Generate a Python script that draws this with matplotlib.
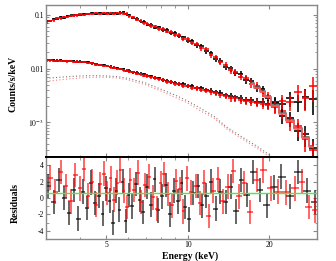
import numpy as np
import matplotlib
matplotlib.use("Agg")
import matplotlib.pyplot as plt
from matplotlib.ticker import FixedLocator, NullFormatter, LogLocator

plt.rcParams['font.family'] = ['Liberation Serif', 'DejaVu Serif']
plt.rcParams['mathtext.fontset'] = 'stix'

# ---------------- data ----------------
E_top = [3.0, 3.1, 3.2, 3.3, 3.4, 3.5, 3.6, 3.7, 3.8, 3.9,
         4.0, 4.15, 4.3, 4.45, 4.6, 4.75, 4.9, 5.05, 5.2, 5.35,
         5.5, 5.65, 5.8, 5.95, 6.1, 6.3, 6.5, 6.7, 6.9, 7.1,
         7.35, 7.6, 7.85, 8.1, 8.4, 8.7, 9.0, 9.3, 9.65, 10.0,
         10.4, 10.8, 11.2, 11.7, 12.2, 12.7, 13.2, 13.8, 14.4, 15.0,
         15.7, 16.4, 17.2, 18.0, 18.9, 19.8, 21.0, 22.4, 23.9, 25.5, 27.2, 29.0]

specA_black = [.076, .077, .083, .084, .090, .089, .095, .097, .099, .101,
               .100, .105, .103, .107, .105, .109, .106, .108, .105, .109,
               .106, .110, .111, .102, .099, .088, .085, .076, .074, .066,
               .066, .058, .059, .052, .053, .046, .046, .040, .038, .033,
               .032, .027, .026, .021, .0195, .0152, .0140, .0109, .0101, .0082,
               .0078, .0062, .0058, .0044, .0041, .0028, .0024, .0013, .0012, .0007, .00060, .00033]
specA_red = [.071, .076, .079, .086, .086, .091, .092, .095, .097, .098,
             .102, .101, .105, .104, .107, .105, .108, .106, .108, .106,
             .108, .107, .106, .105, .095, .091, .081, .078, .070, .069,
             .062, .061, .055, .055, .049, .049, .043, .042, .036, .035,
             .030, .029, .024, .023, .0178, .0163, .0130, .0117, .0093, .0088,
             .0070, .0067, .0052, .0048, .0036, .0031, .0019, .0016, .0010, .00085, .00048, .00030]
specB_black = [.0146, .0143, .0145, .0141, .0143, .0139, .0140, .0137, .0138, .0135,
               .0135, .0131, .0130, .0125, .0123, .0117, .0116, .0111, .0109, .0104,
               .0103, .0098, .0097, .0092, .0091, .0086, .0084, .0080, .0078, .0074,
               .0072, .0068, .0066, .0062, .0060, .0057, .0055, .0052, .0051, .0048,
               .0047, .0044, .0043, .0040, .0039, .0036, .0035, .0032, .0031, .0029,
               .0028, .0026, .0026, .0024, .0024, .0022, .0023, .0022, .0028, .0024, .0029, .0027]
specB_red = [.0139, .0142, .0140, .0140, .0138, .0139, .0136, .0137, .0134, .0135,
             .0131, .0131, .0126, .0125, .0119, .0118, .0112, .0111, .0105, .0104,
             .0099, .0098, .0093, .0092, .0087, .0085, .0080, .0079, .0074, .0073,
             .0069, .0067, .0063, .0061, .0057, .0056, .0052, .0051, .0048, .0047,
             .0044, .0043, .0040, .0039, .0036, .0035, .0032, .0031, .0028, .0028,
             .0026, .0025, .0024, .0023, .0022, .0021, .0020, .0025, .0024, .0037, .0028, .0047]
rel_err = [0.05, 0.05, 0.05, 0.05, 0.05, 0.05, 0.05, 0.05, 0.05, 0.05,
           0.05, 0.05, 0.05, 0.05, 0.05, 0.05, 0.05, 0.055, 0.055, 0.055,
           0.055, 0.055, 0.06, 0.06, 0.06, 0.06, 0.06, 0.065, 0.065, 0.065,
           0.07, 0.07, 0.07, 0.075, 0.075, 0.08, 0.08, 0.085, 0.085, 0.09,
           0.09, 0.095, 0.1, 0.1, 0.11, 0.11, 0.12, 0.12, 0.13, 0.13,
           0.14, 0.15, 0.16, 0.17, 0.18, 0.2, 0.24, 0.28, 0.32, 0.36, 0.42, 0.5]

# model (high-energy part of spectrum A, drawn as steps)
E_mod = [17.2, 18.0, 18.9, 19.8, 21.0, 22.4, 23.9, 25.5, 27.2, 29.0]
modA_black = [.0055, .0046, .0038, .0030, .0021, .0015, .0011, .00078, .00053, .00036]
modA_red = [.0052, .0044, .0036, .0029, .0020, .0014, .00105, .00074, .00050, .00034]

# dotted model components
E_comp = [3.0, 3.5, 4.0, 4.5, 5.0, 5.5, 6.0, 7.0, 8.0, 9.0, 10.0, 11.0, 12.5, 14.0, 16.0, 18.0, 20.0, 22.0]
comp_black = [.0066, .0070, .0073, .0074, .0073, .0071, .0066, .0054, .0041, .0032, .0025, .0019,
              .0013, .00080, .00052, .00036, .00025, .00018]
comp_red = [.0058, .0063, .0067, .0069, .0069, .0067, .0062, .0050, .0038, .0029, .0023, .0017,
            .0012, .00074, .00048, .00033, .00023, .00016]

# residuals
E_res_black = [3.05, 3.2, 3.35, 3.5, 3.65, 3.8, 3.95, 4.1, 4.25, 4.4,
               4.55, 4.7, 4.85, 5.0, 5.15, 5.3, 5.45, 5.6, 5.75, 5.9,
               6.05, 6.25, 6.45, 6.65, 6.85, 7.05, 7.3, 7.55, 7.8, 8.05,
               8.3, 8.6, 8.9, 9.2, 9.5, 9.8, 10.1, 10.5, 10.9, 11.3,
               11.7, 12.2, 12.7, 13.2, 13.8, 14.4, 15.1, 15.8, 16.6, 17.5,
               18.5, 19.6, 20.8, 22.2, 23.8, 25.6, 27.6, 29.5]
res_black = [1.5, -0.5, 2.2, 0.0, -1.8, 1.0, -2.5, 0.8, -1.2, 1.9,
             -0.6, 0.3, -1.9, 1.2, -0.3, -3.0, 0.9, -1.4, 2.0, -2.8,
             0.4, -1.0, 1.7, -0.2, -1.7, 1.4, -0.8, 2.3, -1.5, 0.2,
             1.6, -2.0, 0.9, -0.4, 1.9, -1.1, -2.6, 0.6, 1.5, -0.9,
             0.3, 2.0, -1.3, 0.8, -0.5, 1.4, -1.6, 2.2, 0.4, 3.2,
             1.0, -0.9, 1.3, 2.6, 0.2, 3.2, 0.9, -0.5]
E_res_red = [3.1, 3.25, 3.4, 3.55, 3.7, 3.85, 4.0, 4.15, 4.3, 4.45,
             4.6, 4.75, 4.9, 5.05, 5.2, 5.35, 5.5, 5.65, 5.8, 5.95,
             6.15, 6.35, 6.55, 6.75, 6.95, 7.2, 7.45, 7.7, 7.95, 8.2,
             8.45, 8.75, 9.05, 9.35, 9.65, 9.95, 10.3, 10.7, 11.1, 11.5,
             11.95, 12.45, 12.95, 13.5, 14.1, 14.75, 15.45, 16.2, 17.0, 18.0,
             19.0, 20.3, 21.5, 23.0, 25.0, 26.5, 28.0, 29.6]
res_red = [2.5, 0.8, 3.2, 1.5, -0.4, 2.8, 1.2, 3.6, 0.3, 2.0,
           -0.8, 1.7, 3.0, 0.6, 2.4, -0.2, 1.9, 3.4, 0.9, -1.1,
           2.2, 1.0, 3.1, -0.5, 1.6, 2.6, 0.1, -1.3, 1.8, 2.9,
           0.5, -0.9, 2.1, 1.1, -1.6, 2.4, 0.7, 1.5, -0.6, 1.9,
           -2.2, 0.9, 2.3, -0.4, 1.4, 3.3, 0.2, 1.8, -1.7, 2.2,
           3.4, 1.2, 0.8, 0.7, 1.2, 2.0, -1.1, -1.5]
res_err = 1.5
res_ref_level = 0.6

x_ticks = [5, 10, 20]
x_ticklabels = ['5', '10', '20']
y_res_ticks = [4, 2, 0, -2, -4]
y_res_labels = ['4', '2', '0', '-2', '-4']


def half_widths(e):
    e = np.asarray(e, float)
    edges = np.sqrt(e[1:] * e[:-1])
    lo = np.concatenate([[e[0] - (edges[0] - e[0])], edges])
    hi = np.concatenate([edges, [e[-1] + (e[-1] - edges[-1])]])
    return np.vstack([e - lo, hi - e])


# ---------------- figure ----------------
fig = plt.figure(figsize=(3.36, 2.61), dpi=100)
ax1 = fig.add_axes([0.137, 0.398, 0.806, 0.583])
ax2 = fig.add_axes([0.137, 0.084, 0.806, 0.314], sharex=ax1)

E = np.asarray(E_top)
xe = half_widths(E_top)
rel = np.asarray(rel_err)

for vals, col, a in [(specA_black, 'black', 0.9), (specA_red, 'red', 0.85),
                     (specB_black, 'black', 0.9), (specB_red, 'red', 0.85)]:
    v = np.asarray(vals)
    ax1.errorbar(E, v, xerr=xe, yerr=v * rel, fmt='none', ecolor=col,
                 elinewidth=1.3, alpha=a, capsize=0)

ax1.plot(E_mod, modA_black, drawstyle='steps-mid', color='#555555', lw=1.1)
ax1.plot(E_mod, modA_red, drawstyle='steps-mid', color='#ff6060', lw=1.1)

ax1.plot(E_comp, comp_black, ls=(0, (1, 2)), color='#777777', lw=0.8)
ax1.plot(E_comp, comp_red, ls=(0, (1, 2)), color='#ff8080', lw=0.8)

ax1.set_xscale('log')
ax1.set_yscale('log')
ax1.set_xlim(3, 30)
ax1.set_ylim(2.25e-4, 0.153)

ax1.yaxis.set_major_locator(FixedLocator([1e-3, 1e-2, 1e-1]))
ax1.set_yticklabels([r'$10^{-3}$', '0.01', '0.1'])
ax1.yaxis.set_minor_locator(LogLocator(base=10, subs=np.arange(2, 10)))
ax1.yaxis.set_minor_formatter(NullFormatter())

# residuals
xr_b = half_widths(E_res_black)
xr_r = half_widths(E_res_red)
ax2.errorbar(E_res_black, res_black, xerr=xr_b, yerr=res_err, fmt='none',
             ecolor='black', elinewidth=1.4, alpha=0.6, capsize=0)
ax2.errorbar(E_res_red, res_red, xerr=xr_r, yerr=res_err, fmt='none',
             ecolor='red', elinewidth=1.4, alpha=0.6, capsize=0)
ax2.axhline(res_ref_level, color='#44ee44', lw=1.0)
ax2.set_ylim(-5, 5)
ax2.set_yticks(y_res_ticks)
ax2.set_yticklabels(y_res_labels)
ax2.yaxis.set_minor_locator(FixedLocator(np.arange(-5, 6, 1)))

ax2.xaxis.set_major_locator(FixedLocator(x_ticks))
ax2.set_xticklabels(x_ticklabels)
ax2.xaxis.set_minor_locator(FixedLocator([3, 4, 6, 7, 8, 9, 30]))
ax2.xaxis.set_minor_formatter(NullFormatter())
plt.setp(ax1.get_xticklabels(), visible=False)

for ax in (ax1, ax2):
    for s in ax.spines.values():
        s.set_color('#888888')
        s.set_linewidth(1.0)
    ax.tick_params(which='both', direction='in', top=True, right=True,
                   labelsize=5.5, colors='#888888', labelcolor='black', pad=1.5)
    ax.tick_params(which='major', length=3)
    ax.tick_params(which='minor', length=1.8)

ax1.spines['bottom'].set_color('black')
ax1.spines['bottom'].set_linewidth(1.4)
ax2.spines['top'].set_color('black')
ax2.spines['top'].set_linewidth(1.4)

fig.text(0.04, 0.68, 'Counts/s/keV', rotation=90, fontsize=7, fontweight='bold',
         ha='center', va='center')
fig.text(0.045, 0.222, 'Residuals', rotation=90, fontsize=7, fontweight='bold',
         ha='center', va='center')
fig.text(0.565, 0.018, 'Energy (keV)', fontsize=7, fontweight='bold',
         ha='center', va='center')

fig.savefig('out.png', dpi=100)
